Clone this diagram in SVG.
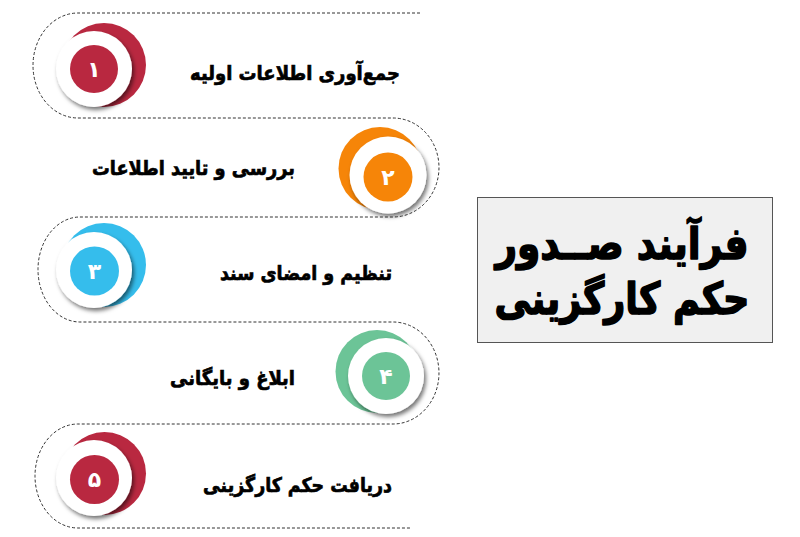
<svg xmlns="http://www.w3.org/2000/svg" width="800" height="537" viewBox="0 0 800 537">
<style>
.lbl{font-family:"DejaVu Sans","Noto Sans",sans-serif;font-weight:bold;font-size:20px;fill:#000;stroke:#000;stroke-width:0.7;text-anchor:middle;direction:rtl}
.num{font-family:"DejaVu Sans","Noto Sans",sans-serif;font-weight:bold;font-size:22px;fill:#fff;text-anchor:middle}
.title{font-family:"DejaVu Sans","Noto Sans",sans-serif;font-weight:bold;font-size:44px;fill:#000;stroke:#000;stroke-width:1.6;stroke-linejoin:round;text-anchor:middle;direction:rtl}
.ring{fill:#fff;filter:url(#sh)}
.red{fill:#b92840}.org{fill:#f68508}.blu{fill:#35bdec}.grn{fill:#6cc497}
</style>
<defs>
<filter id="sh" x="-30%" y="-30%" width="160%" height="160%">
<feDropShadow dx="2" dy="3" stdDeviation="2" flood-color="#000" flood-opacity="0.55"/>
</filter>
</defs>
<rect width="800" height="537" fill="#fff"/>
<g id="connectors">
<path d="M420 13 H78 A45 52.5 0 0 0 78 118 H393 A46 49.5 0 0 1 393 217 H80 A42 52.5 0 0 0 80 322 H393 A46 51 0 0 1 393 424 H78 A43 52 0 0 0 78 528 H410" fill="none" stroke="#333" stroke-width="1" stroke-dasharray="3 2"/>
</g>
<g id="step1">
<circle class="red" cx="104" cy="65" r="42"/>
<circle class="ring" cx="94" cy="69" r="38"/>
<circle class="red" cx="94" cy="69" r="24"/>
<text class="num" x="94" y="77">۱</text>
<text class="lbl" x="295" y="80" textLength="210" lengthAdjust="spacingAndGlyphs">جمع‌آوری اطلاعات اولیه</text>
</g>
<g id="step2">
<circle class="org" cx="380" cy="168.5" r="41.5"/>
<circle class="ring" cx="388" cy="175" r="38.5"/>
<circle class="org" cx="388" cy="177" r="24.5"/>
<text class="num" x="388" y="185">۲</text>
<text class="lbl" x="193.5" y="175" textLength="203" lengthAdjust="spacingAndGlyphs">بررسی و تایید اطلاعات</text>
</g>
<g id="step3">
<circle class="blu" cx="104" cy="265" r="42"/>
<circle class="ring" cx="94" cy="270" r="38"/>
<circle class="blu" cx="94.5" cy="271" r="24.5"/>
<text class="num" x="94.5" y="279">۳</text>
<text class="lbl" x="306" y="280" textLength="172" lengthAdjust="spacingAndGlyphs">تنظیم و امضای سند</text>
</g>
<g id="step4">
<circle class="grn" cx="377" cy="371.5" r="41.5"/>
<circle class="ring" cx="386" cy="376" r="38"/>
<circle class="grn" cx="386" cy="376" r="24"/>
<text class="num" x="386" y="384">۴</text>
<text class="lbl" x="232.5" y="385" textLength="125" lengthAdjust="spacingAndGlyphs">ابلاغ و بایگانی</text>
</g>
<g id="step5">
<circle class="red" cx="104.5" cy="473.5" r="41.5"/>
<circle class="ring" cx="94" cy="478" r="38"/>
<circle class="red" cx="94.5" cy="479.5" r="24.5"/>
<text class="num" x="94.5" y="487">۵</text>
<text class="lbl" x="297.5" y="492" textLength="189" lengthAdjust="spacingAndGlyphs">دریافت حکم کارگزینی</text>
</g>
<g id="title">
<rect x="477.5" y="197.5" width="295" height="145" fill="#f0f0f0" stroke="#555" stroke-width="1"/>
<text class="title" x="622" y="259" textLength="253" lengthAdjust="spacingAndGlyphs">فرآیند صــدور</text>
<text class="title" x="622" y="314" textLength="255" lengthAdjust="spacingAndGlyphs">حکم کارگزینی</text>
</g>
</svg>
